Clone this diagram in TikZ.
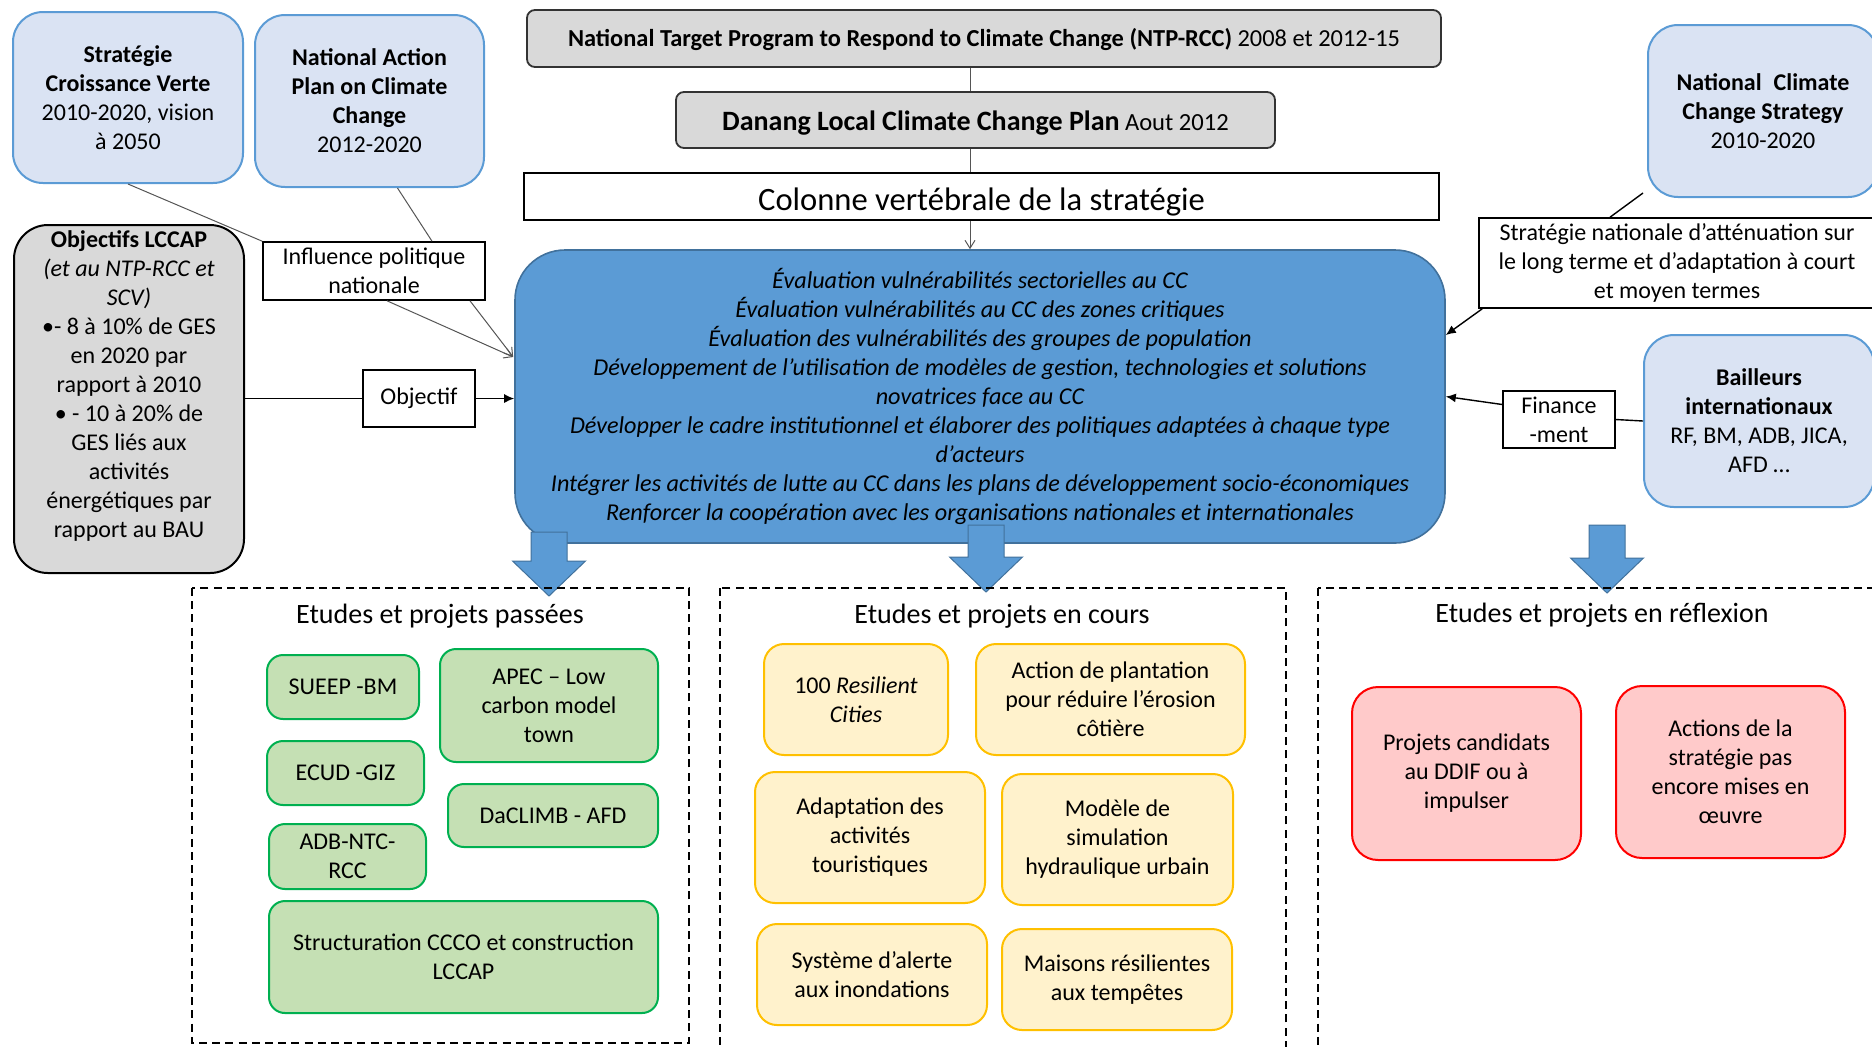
\documentclass[tikz,border=0pt]{standalone}
\usepackage{fontspec}
\setmainfont{Carlito}
\usetikzlibrary{arrows.meta,calc}
\definecolor{lblue}{HTML}{DAE3F3}
\definecolor{mblue}{HTML}{5B9BD5}
\definecolor{dblue}{HTML}{41719C}
\definecolor{lgray}{HTML}{D9D9D9}
\definecolor{lgreen}{HTML}{C5E0B4}
\definecolor{dgreen}{HTML}{00B050}
\definecolor{lyellow}{HTML}{FFF2CC}
\definecolor{dyellow}{HTML}{FFC000}
\definecolor{lred}{HTML}{FFCACA}
\definecolor{dred}{HTML}{FF0000}
\definecolor{wire}{HTML}{555555}
\newcommand\bodysize{\fontsize{12}{14.5}\selectfont}
\tikzset{
  base/.style={align=center, inner sep=0pt, font=\bodysize},
  policy/.style={base, rounded corners=15pt, draw=mblue, line width=1pt, fill=lblue},
  greybox/.style={base, rounded corners=4pt, draw=black!80, line width=0.9pt, fill=lgray},
  labelbox/.style={base, draw=black, line width=0.8pt, fill=white},
  greenbox/.style={base, rounded corners=8pt, draw=dgreen, line width=1pt, fill=lgreen},
  yellowbox/.style={base, rounded corners=10pt, draw=dyellow, line width=1pt, fill=lyellow},
  redbox/.style={base, rounded corners=13pt, draw=dred, line width=1pt, fill=lred},
  group/.style={draw=black, line width=0.9pt, dash pattern=on 4pt off 2.6pt},
  thinwire/.style={draw=wire, line width=0.5pt},
  openarrow/.style={thinwire, -{Straight Barb[length=4pt,width=5pt]}},
  blackwire/.style={draw=black, line width=0.7pt},
  solidarrow/.style={blackwire, -{Latex[length=5pt,width=4.5pt]}},
  bigarrowstyle/.style={fill=mblue, draw=dblue, line width=0.5pt},
  pics/downarrow/.style={code={
    \draw[bigarrowstyle] (-18,-#1) -- (18,-#1) -- (18,-35) -- (36.5,-35)
      -- (0,0) -- (-36.5,-35) -- (-18,-35) -- cycle;}},
}
\begin{document}
\begin{tikzpicture}[x=0.5pt,y=-0.5pt]
\useasboundingbox (0,0) rectangle (1872,1046);
\coordinate (spine) at (970,0);

% national policy documents (top left)
\node[policy, minimum width=115pt, minimum height=85.5pt] (scv) at (128,97.5)
  {\textbf{Stratégie}\\\textbf{Croissance Verte}\\2010-2020, vision\\à 2050};
\node[policy, minimum width=114.5pt, minimum height=86pt] (napcc) at (369.5,101)
  {\textbf{National Action}\\\textbf{Plan on Climate}\\\textbf{Change}\\2012-2020};
\node[labelbox, minimum width=111pt, minimum height=29pt] (infl) at (374,271)
  {Influence politique\\nationale};

% objectives
\node[greybox, rounded corners=17pt, draw=black, line width=1pt,
      minimum width=115pt, minimum height=174pt] (lccap) at (129,399) {};
\node[base, anchor=north] (lccaptxt) at ($(lccap.north)+(0,6.5)$)
  {\textbf{Objectifs LCCAP}\\\textit{(et au NTP-RCC et}\\\textit{SCV)}\\
   •- 8 à 10\% de GES\\en 2020 par\\rapport à 2010\\• - 10 à 20\% de\\
   GES liés aux\\activités\\énergétiques par\\rapport au BAU};
\node[labelbox, minimum width=56pt, minimum height=28.5pt] (obj) at (419,398.5) {Objectif};

% local plan spine
\node[greybox, minimum width=457pt, minimum height=28.5pt] (ntp) at (984,38.5) {};
\node[base, font=\fontsize{12.2}{14}\selectfont] (ntptxt) at ($(ntp.center)+(0,1)$)
  {\textbf{National Target Program to Respond to Climate Change (NTP-RCC)} 2008 et 2012-15};
\node[greybox, minimum width=299.5pt, minimum height=28pt] (danang) at (975.5,120) {};
\node[base] (danangtxt) at ($(danang.center)+(0,3)$)
  {{\fontsize{14}{16}\selectfont\textbf{Danang Local Climate Change Plan}} {\fontsize{12.3}{14}\selectfont Aout 2012}};
\node[labelbox, minimum width=457.5pt, minimum height=23.5pt] (colonne) at (981.5,196.5) {};
\node[base, font=\fontsize{16.3}{19}\selectfont] (colonnetxt) at ($(colonne.center)+(0,5)$)
  {Colonne vertébrale de la stratégie};
\node[base, rounded corners=25pt, fill=mblue, draw=dblue, line width=0.8pt,
      minimum width=465pt, minimum height=146.5pt,
      font=\itshape\fontsize{12.1}{14.55}\selectfont] (main) at (980,396.5)
  {Évaluation vulnérabilités sectorielles au CC\\
   Évaluation vulnérabilités au CC des zones critiques\\
   Évaluation des vulnérabilités des groupes de population\\
   Développement de l’utilisation de modèles de gestion, technologies et solutions\\
   novatrices face au CC\\
   Développer le cadre institutionnel et élaborer des politiques adaptées à chaque type\\
   d’acteurs\\
   Intégrer les activités de lutte au CC dans les plans de développement socio-économiques\\
   Renforcer la coopération avec les organisations nationales et internationales};

% right side
\node[policy, minimum width=115pt, minimum height=86pt] (ncs) at (1763,111)
  {\textbf{National\enspace Climate}\\\textbf{Change Strategy}\\2010-2020};
\node[labelbox, minimum width=198pt, minimum height=45pt] (snat) at (1677,263)
  {Stratégie nationale d’atténuation sur\\le long terme et d’adaptation à court\\et moyen termes};
\node[policy, minimum width=115pt, minimum height=86pt] (bail) at (1759,421)
  {\textbf{Bailleurs}\\\textbf{internationaux}\\RF, BM, ADB, JICA,\\AFD …};
\node[labelbox, minimum width=56pt, minimum height=28.5pt] (fin) at (1559,419.5)
  {Finance\\-ment};

% connectors
\draw[thinwire] (ntp.south -| spine) -- (danang.north -| spine);
\draw[thinwire] (danang.south -| spine) -- (colonne.north -| spine);
\draw[openarrow] (colonne.south -| spine) -- (main.north -| spine);
\draw[thinwire] (scv.south) -- (infl.north west);
\draw[thinwire] ($(napcc.south)+(28,0)$) -- ($(infl.north)+(58,0)$);
\coordinate (infltip) at ($(main.west)+(-1,-39.5)$);
\draw[openarrow] ($(infl.south)+(13,0)$) -- (infltip);
\draw[openarrow] ($(infl.south)+(96,0)$) -- (infltip);
\draw[blackwire] (lccap.east |- obj.west) -- (obj.west);
\draw[solidarrow] (obj.east) -- (main.west |- obj.east);
\draw[blackwire] ($(ncs.south west)+(-4,-5)$) -- ($(snat.north)+(-67,0)$);
\draw[solidarrow] ($(snat.south west)+(4,0)$) -- ($(main.east)+(0,-61.5)$);
\draw[blackwire] (bail.west) -- (fin.east);
\draw[solidarrow] ($(fin.west)+(0,-15)$) -- (main.east);

% block arrows towards the project groups
\pic at (549,596) {downarrow=64};
\pic at (986,592) {downarrow=67};
\pic at (1607,593) {downarrow=68};

% project groups
\draw[group] (192,588) rectangle (689,1043);
\draw[group] (720,588) rectangle (1286,1070);
\draw[group] (1318,588) rectangle (1900,1070);
\node[base, font=\fontsize{14}{17}\selectfont] (tpast) at (440,616) {Etudes et projets passées};
\node[base, font=\fontsize{14}{17}\selectfont] (tcur) at (1002,616) {Etudes et projets en cours};
\node[base, font=\fontsize{14}{17}\selectfont] (tfut) at (1602,615) {Etudes et projets en réflexion};

% past projects
\node[greenbox, minimum width=76pt, minimum height=32pt] (sueep) at (343,687) {SUEEP -BM};
\node[greenbox, minimum width=109pt, minimum height=56.5pt] (apec) at (549,705.5) {APEC – Low\\carbon model\\town};
\node[greenbox, minimum width=78.5pt, minimum height=32pt] (ecud) at (345.5,773) {ECUD -GIZ};
\node[greenbox, minimum width=105pt, minimum height=31.5pt] (daclimb) at (553,815.5) {DaCLIMB - AFD};
\node[greenbox, minimum width=78.5pt, minimum height=32.5pt] (adb) at (347.5,856.5) {ADB-NTC-\\RCC};
\node[greenbox, minimum width=194.5pt, minimum height=56pt] (struct) at (463.5,957) {Structuration CCCO et construction\\LCCAP};

% ongoing projects
\node[yellowbox, minimum width=92pt, minimum height=55.5pt] (res) at (856,699.5) {100 \textit{Resilient}\\\textit{Cities}};
\node[yellowbox, minimum width=134.5pt, minimum height=55.5pt] (plant) at (1110.5,699.5) {Action de plantation\\pour réduire l’érosion\\côtière};
\node[yellowbox, minimum width=115pt, minimum height=65.5pt] (tour) at (870,837.5) {Adaptation des\\activités\\touristiques};
\node[yellowbox, minimum width=115.5pt, minimum height=65.5pt] (hydro) at (1117.5,839.5) {Modèle de\\simulation\\hydraulique urbain};
\node[yellowbox, minimum width=115pt, minimum height=50.5pt] (alerte) at (872,974.5) {Système d’alerte\\aux inondations};
\node[yellowbox, minimum width=115pt, minimum height=50.5pt] (maisons) at (1117,979.5) {Maisons résilientes\\aux tempêtes};

% projects under consideration
\node[redbox, minimum width=114.5pt, minimum height=86.5pt] (cand) at (1466.5,773.5) {Projets candidats\\au DDIF ou à\\impulser};
\node[redbox, minimum width=114.5pt, minimum height=86pt] (actions) at (1730.5,772) {Actions de la\\stratégie pas\\encore mises en\\œuvre};
\end{tikzpicture}
\end{document}
